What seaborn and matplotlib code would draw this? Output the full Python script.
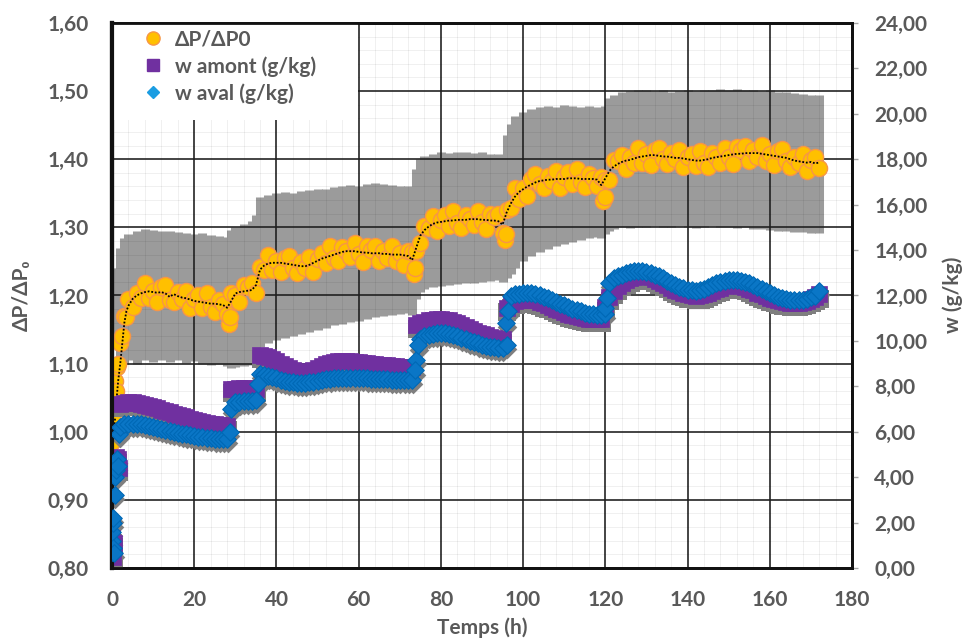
import matplotlib
matplotlib.use("Agg")
import matplotlib.pyplot as plt
import matplotlib.transforms as mtransforms
from matplotlib.lines import Line2D
from matplotlib.patches import Rectangle
from matplotlib.ticker import FuncFormatter, MultipleLocator
import seaborn as sns

# ---------------- data ----------------
# dP/dP0 : early (dense) samples then one sample per hour from 4 h to 172 h
t_dp = [0, 0.1, 0.2, 0.3, 0.4, 0.5, 0.75, 1, 1.25, 1.5, 2, 2.5, 3, 3.5] + list(range(4, 173))

dp_points = [
    0.985, 1.035, 1.005, 1.055, 1.015, 1.045, 1.075, 1.060, 1.095, 1.100, 1.130, 1.140, 1.170, 1.168,
    1.195, 1.183, 1.204, 1.197, 1.218, 1.196, 1.207, 1.190, 1.213, 1.215,
    1.194, 1.191, 1.205, 1.195, 1.207, 1.181, 1.195, 1.200, 1.182, 1.203,
    1.183, 1.176, 1.194, 1.187, 1.173, 1.204, 1.200, 1.191, 1.216, 1.212,
    1.218, 1.203, 1.242, 1.238, 1.260, 1.238, 1.250, 1.234, 1.255, 1.258,
    1.241, 1.233, 1.249, 1.241, 1.256, 1.235, 1.254, 1.263, 1.248, 1.272,
    1.255, 1.250, 1.271, 1.266, 1.256, 1.277, 1.261, 1.249, 1.273, 1.267,
    1.272, 1.250, 1.265, 1.255, 1.273, 1.250, 1.262, 1.245, 1.266, 1.264,
    1.266, 1.277, 1.302, 1.299, 1.316, 1.294, 1.311, 1.318, 1.302, 1.324,
    1.306, 1.299, 1.318, 1.313, 1.303, 1.324, 1.308, 1.297, 1.320, 1.315,
    1.319, 1.292, 1.326, 1.329, 1.358, 1.342, 1.358, 1.346, 1.371, 1.378,
    1.364, 1.358, 1.376, 1.368, 1.382, 1.358, 1.374, 1.381, 1.364, 1.386,
    1.366, 1.359, 1.378, 1.372, 1.361, 1.374, 1.369, 1.369, 1.399, 1.398,
    1.406, 1.386, 1.403, 1.395, 1.416, 1.394, 1.407, 1.392, 1.414, 1.417,
    1.400, 1.393, 1.409, 1.400, 1.413, 1.388, 1.403, 1.408, 1.390, 1.412,
    1.394, 1.388, 1.409, 1.404, 1.395, 1.417, 1.403, 1.393, 1.418, 1.413,
    1.419, 1.397, 1.413, 1.403, 1.421, 1.397, 1.408, 1.391, 1.412, 1.415,
    1.398, 1.389, 1.404, 1.395, 1.407, 1.382, 1.399, 1.403, 1.387,
]

# dotted black trend line
dp_trend = [
    0.985, 0.988, 0.992, 0.996, 1.000, 1.005, 1.020, 1.040, 1.058, 1.075, 1.100, 1.130, 1.160, 1.177,
    1.185, 1.195, 1.200, 1.203, 1.205, 1.206, 1.205, 1.204, 1.205, 1.203,
    1.198, 1.202, 1.199, 1.197, 1.196, 1.194, 1.192, 1.191, 1.190, 1.189,
    1.188, 1.188, 1.187, 1.186, 1.182, 1.192, 1.203, 1.205, 1.206, 1.207,
    1.208, 1.215, 1.238, 1.244, 1.247, 1.248, 1.248, 1.248, 1.247, 1.246,
    1.245, 1.244, 1.243, 1.243, 1.245, 1.248, 1.251, 1.254, 1.256, 1.258,
    1.260, 1.262, 1.264, 1.265, 1.265, 1.265, 1.264, 1.263, 1.263, 1.262,
    1.262, 1.262, 1.261, 1.261, 1.260, 1.260, 1.260, 1.259, 1.258, 1.252,
    1.270, 1.288, 1.296, 1.301, 1.305, 1.307, 1.308, 1.309, 1.310, 1.310,
    1.311, 1.311, 1.311, 1.312, 1.312, 1.312, 1.311, 1.311, 1.310, 1.310,
    1.309, 1.304, 1.322, 1.335, 1.345, 1.352, 1.356, 1.360, 1.363, 1.366,
    1.368, 1.369, 1.370, 1.370, 1.371, 1.371, 1.371, 1.372, 1.372, 1.372,
    1.371, 1.371, 1.371, 1.371, 1.370, 1.362, 1.372, 1.383, 1.389, 1.393,
    1.396, 1.398, 1.399, 1.401, 1.403, 1.404, 1.405, 1.406, 1.406, 1.405,
    1.404, 1.404, 1.403, 1.402, 1.402, 1.401, 1.400, 1.399, 1.398, 1.398,
    1.399, 1.400, 1.402, 1.403, 1.404, 1.405, 1.406, 1.407, 1.408, 1.408,
    1.409, 1.409, 1.409, 1.409, 1.408, 1.407, 1.406, 1.405, 1.404, 1.403,
    1.402, 1.400, 1.398, 1.397, 1.396, 1.395, 1.396, 1.394, 1.395,
]

# low dP/dP0 points at the humidity steps
t_dp_steps = [28.5, 28.8, 73.5, 73.8, 95.5, 95.8, 119.5, 119.8]
dp_steps = [1.158, 1.168, 1.232, 1.240, 1.282, 1.290, 1.338, 1.345]

# grey error bars of dP/dP0 (low / high ends)
t_band = [1, 2, 3, 4, 6, 8, 10, 12, 14, 16, 18, 20, 22, 24, 26, 28, 29, 30, 32, 34, 35,
          36, 38, 40, 42, 44, 46, 48, 50, 52, 54, 56, 58, 60, 62, 64, 66, 68, 70, 72, 73,
          74, 75, 76, 78, 80, 82, 84, 86, 88, 90, 92, 94, 95,
          96, 97, 98, 100, 102, 104, 106, 108, 110, 112, 114, 116, 118, 119,
          120, 121, 122, 124, 126, 128, 130, 132, 134, 136, 138, 140, 142, 144, 146, 148,
          150, 152, 154, 156, 158, 160, 162, 164, 166, 168, 170, 172]
band_low = [1.130, 1.110, 1.100, 1.105, 1.100, 1.105, 1.102, 1.106, 1.103, 1.105, 1.101, 1.104,
            1.100, 1.098, 1.100, 1.096, 1.094, 1.095, 1.097, 1.098, 1.105,
            1.125, 1.130, 1.135, 1.138, 1.141, 1.144, 1.147, 1.150, 1.153, 1.156, 1.158, 1.161,
            1.163, 1.166, 1.168, 1.170, 1.172, 1.173, 1.174, 1.172,
            1.195, 1.205, 1.210, 1.212, 1.214, 1.215, 1.217, 1.218, 1.219, 1.220, 1.221, 1.222, 1.220,
            1.225, 1.232, 1.240, 1.250, 1.258, 1.264, 1.268, 1.272, 1.276, 1.279, 1.282, 1.284,
            1.286, 1.285,
            1.290, 1.295, 1.298, 1.300, 1.299, 1.301, 1.300, 1.302, 1.301, 1.300, 1.302, 1.301,
            1.299, 1.300, 1.302, 1.301, 1.300, 1.299, 1.300, 1.298, 1.297, 1.296, 1.295, 1.294,
            1.293, 1.293, 1.292, 1.292]
band_high = [1.240, 1.270, 1.285, 1.290, 1.295, 1.297, 1.296, 1.294, 1.295, 1.293, 1.292, 1.290,
             1.291, 1.289, 1.288, 1.286, 1.296, 1.300, 1.305, 1.310, 1.318,
             1.345, 1.348, 1.350, 1.352, 1.351, 1.354, 1.355, 1.357, 1.356, 1.359, 1.360, 1.362,
             1.361, 1.364, 1.365, 1.363, 1.362, 1.361, 1.360, 1.358,
             1.385, 1.400, 1.405, 1.408, 1.410, 1.409, 1.411, 1.410, 1.409, 1.410, 1.408, 1.407, 1.405,
             1.435, 1.452, 1.463, 1.470, 1.474, 1.477, 1.478, 1.477, 1.479, 1.478, 1.477, 1.478,
             1.476, 1.474,
             1.478, 1.490, 1.495, 1.498, 1.500, 1.501, 1.502, 1.500, 1.501, 1.499, 1.500, 1.501,
             1.500, 1.502, 1.501, 1.503, 1.502, 1.503, 1.502, 1.501, 1.500, 1.501, 1.499, 1.498,
             1.497, 1.496, 1.495, 1.495]

# w amont (g/kg): start-up samples then hourly from 2 h to 172 h
t_amont = [0, 0.1, 0.2, 0.3, 0.4, 0.6, 0.8, 1.0, 1.2, 1.4, 1.6] + list(range(2, 173))
w_amont = [
    0.6, 1.3, 0.9, 0.5, 1.1, 4.3, 4.6, 4.9, 4.5, 4.8, 4.4,
    7.22, 7.28, 7.30, 7.29, 7.27, 7.23, 7.18, 7.13, 7.08, 7.03,
    6.97, 6.92, 6.86, 6.80, 6.75, 6.69, 6.64, 6.58, 6.53, 6.48,
    6.43, 6.39, 6.36, 6.33, 6.31, 6.29, 6.27, 7.88, 7.90, 7.92,
    7.92, 7.91, 7.90, 7.88, 9.38, 9.35, 9.30, 9.20, 9.10, 9.00,
    8.90, 8.81, 8.72, 8.67, 8.63, 8.63, 8.65, 8.72, 8.80, 8.89,
    8.98, 9.04, 9.08, 9.10, 9.11, 9.11, 9.10, 9.08, 9.06, 9.04,
    9.02, 9.00, 8.98, 8.96, 8.94, 8.92, 8.90, 8.89, 8.87, 8.86,
    8.85, 8.85, 10.70, 10.78, 10.85, 10.90, 10.93, 10.95, 10.96, 10.94,
    10.90, 10.85, 10.78, 10.70, 10.62, 10.53, 10.45, 10.37, 10.30, 10.24,
    10.18, 10.14, 10.10, 10.08, 11.45, 11.62, 11.75, 11.80, 11.82, 11.83,
    11.82, 11.78, 11.72, 11.65, 11.58, 11.50, 11.42, 11.34, 11.27, 11.20,
    11.14, 11.09, 11.04, 11.00, 10.97, 10.96, 10.96, 10.96, 11.50, 11.95,
    12.20, 12.40, 12.55, 12.66, 12.75, 12.81, 12.85, 12.86, 12.85, 12.80,
    12.72, 12.64, 12.55, 12.45, 12.35, 12.26, 12.18, 12.11, 12.05, 12.01,
    11.98, 12.00, 12.05, 12.12, 12.20, 12.28, 12.35, 12.41, 12.45, 12.47,
    12.46, 12.43, 12.38, 12.30, 12.22, 12.13, 12.05, 11.97, 11.90, 11.84,
    11.78, 11.74, 11.70, 11.68, 11.68, 11.69, 11.72, 11.77, 11.85, 11.95,
    12.05,
]

# w aval (g/kg): start-up samples, hourly values, and isolated points at the steps
t_aval = ([0, 0.05, 0.1, 0.15, 0.2, 0.3, 0.45, 0.6, 0.8, 1.0, 1.2, 1.4, 1.7]
          + list(range(2, 173))
          + [28.6, 35.5, 73.7, 74.4, 95.8, 96.3, 119.8, 120.3])
w_aval = [
    0.7, 1.2, 1.6, 0.9, 2.0, 2.2, 0.65, 3.2, 4.0, 4.3, 4.8, 4.5, 5.9,
    6.22, 6.33, 6.36, 6.36, 6.35, 6.33, 6.30, 6.26, 6.22, 6.17,
    6.13, 6.08, 6.04, 6.00, 5.96, 5.92, 5.88, 5.85, 5.82, 5.79,
    5.76, 5.74, 5.72, 5.70, 5.69, 5.68, 5.67, 7.00, 7.30, 7.33,
    7.35, 7.36, 7.36, 7.40, 8.55, 8.50, 8.45, 8.40, 8.35, 8.30,
    8.25, 8.21, 8.18, 8.16, 8.15, 8.16, 8.18, 8.21, 8.25, 8.29,
    8.32, 8.34, 8.36, 8.37, 8.37, 8.37, 8.37, 8.37, 8.36, 8.36,
    8.35, 8.34, 8.33, 8.33, 8.32, 8.31, 8.30, 8.30, 8.29, 8.29,
    8.28, 8.28, 9.16, 10.10, 10.20, 10.26, 10.30, 10.33, 10.35, 10.34,
    10.32, 10.28, 10.22, 10.15, 10.08, 10.01, 9.95, 9.89, 9.83, 9.79,
    9.75, 9.72, 9.70, 9.69, 9.82, 11.98, 12.05, 12.08, 12.10, 12.11,
    12.10, 12.05, 12.00, 11.94, 11.88, 11.80, 11.72, 11.64, 11.56, 11.49,
    11.42, 11.36, 11.30, 11.25, 11.20, 11.17, 11.14, 11.13, 11.20, 12.55,
    12.75, 12.85, 12.92, 12.98, 13.02, 13.06, 13.08, 13.08, 13.05, 13.00,
    12.92, 12.84, 12.75, 12.65, 12.55, 12.46, 12.38, 12.31, 12.25, 12.22,
    12.20, 12.22, 12.28, 12.36, 12.45, 12.53, 12.60, 12.65, 12.68, 12.69,
    12.68, 12.65, 12.60, 12.53, 12.45, 12.37, 12.28, 12.19, 12.10, 12.02,
    11.95, 11.90, 11.85, 11.82, 11.80, 11.80, 11.82, 11.86, 11.92, 11.98,
    12.20,
    6.00, 8.10, 8.70, 9.80, 10.79, 11.30, 11.45, 11.90,
]

# ---------------- style ----------------
sns.set_theme(style="white")
plt.rcParams['font.family'] = ['Lato', 'Open Sans', 'DejaVu Sans']
plt.rcParams['font.weight'] = 'bold'
plt.rcParams['axes.labelweight'] = 'bold'

TXT = '#595959'
ORANGE_FILL, ORANGE_EDGE = '#FFC000', '#F79646'
PURPLE = '#7030A0'
BLUE_FILL, BLUE_EDGE = '#0A76C6', '#0068B5'
SHADOW = '#7f7f7f'


def fr_comma(v, pos):
    return f'{v:.2f}'.replace('.', ',')


fig = plt.figure(figsize=(9.65, 6.4), dpi=100)
ax = fig.add_axes([0.1161, 0.1125, 0.7668, 0.8516])
ax2 = ax.twinx()

# --- dP/dP0 on left axis ---
# grey error bars sit under the grid; the grid is drawn semi-transparent on top
ax.vlines(t_band, band_low, band_high, colors='#9b9b9b', linewidth=6.5, zorder=1)
sns.scatterplot(x=t_dp, y=dp_points, ax=ax, marker='o', s=135, color=ORANGE_FILL,
                edgecolor=ORANGE_EDGE, linewidth=1, zorder=3, legend=False)
sns.scatterplot(x=t_dp_steps, y=dp_steps, ax=ax, marker='o', s=135, color=ORANGE_FILL,
                edgecolor=ORANGE_EDGE, linewidth=1, zorder=3, legend=False)
sns.lineplot(x=t_dp, y=dp_trend, ax=ax, color='black', linestyle=(0, (1, 1)),
             linewidth=1.3, zorder=4, estimator=None, sort=False, legend=False)

# --- w on right axis (grey drop shadow first) ---
shadow = ax2.transData + mtransforms.ScaledTranslation(0.5 / 72, -3 / 72, fig.dpi_scale_trans)
ax2.scatter(t_amont, w_amont, marker='s', s=175, color=SHADOW, linewidths=0,
            transform=shadow, zorder=1)
ax2.scatter(t_aval, w_aval, marker='D', s=100, color=SHADOW, linewidths=0,
            transform=shadow, zorder=1)
sns.scatterplot(x=t_amont, y=w_amont, ax=ax2, marker='s', s=145, color=PURPLE,
                edgecolor=PURPLE, linewidth=0.5, zorder=2, legend=False)
sns.scatterplot(x=t_aval, y=w_aval, ax=ax2, marker='D', s=80, color=BLUE_FILL,
                edgecolor=BLUE_EDGE, linewidth=0.8, zorder=3, legend=False)

# --- axes, ticks, grid ---
ax.set_xlim(0, 180)
ax.set_ylim(0.8, 1.6)
ax2.set_ylim(0, 24)
ax.set_xlabel('')
ax.set_ylabel('')
ax2.set_ylabel('')

ax.xaxis.set_major_locator(MultipleLocator(20))
ax.xaxis.set_minor_locator(MultipleLocator(4))
ax.yaxis.set_major_locator(MultipleLocator(0.1))
ax.yaxis.set_minor_locator(MultipleLocator(0.02))
ax.yaxis.set_major_formatter(FuncFormatter(fr_comma))
ax2.yaxis.set_major_locator(MultipleLocator(2))
ax2.yaxis.set_major_formatter(FuncFormatter(fr_comma))

ax.grid(which='major', color='#1e1e1e', linewidth=1.3, alpha=0.9)
ax.grid(which='minor', color='black', linewidth=0.7, alpha=0.06)
ax.set_axisbelow('line')

ax.tick_params(axis='x', which='both', length=0, labelsize=15, labelcolor=TXT, pad=16)
ax.tick_params(axis='y', which='both', length=0, labelsize=15, labelcolor=TXT, pad=17)
ax2.tick_params(axis='y', which='major', length=4, width=1, color='#a6a6a6',
                labelsize=15, labelcolor=TXT, pad=12)

for name, lw in [('left', 3), ('bottom', 2), ('top', 2), ('right', 2)]:
    ax.spines[name].set_color('#111111')
    ax.spines[name].set_linewidth(lw)
    ax2.spines[name].set_color('#111111')
    ax2.spines[name].set_linewidth(lw)

fig.text(22 / 965, 1 - 295 / 640, 'ΔP/ΔP₀', rotation=90, ha='center', va='center',
         fontsize=15, color=TXT, fontweight='bold')
fig.text(482 / 965, 1 - 628 / 640, 'Temps (h)', ha='center', va='center',
         fontsize=15, color=TXT, fontweight='bold')
fig.text(953 / 965, 1 - 295 / 640, 'w (g/kg)', rotation=90, ha='center', va='center',
         fontsize=15, color=TXT, fontweight='bold')

# --- legend on a white box in the upper-left corner ---
ax2.add_patch(Rectangle((0, 0.822), 0.332, 0.178, transform=ax2.transAxes,
                        facecolor='white', edgecolor='none', zorder=0.5))
handles = [
    Line2D([], [], ls='none', marker='o', ms=9.5, mfc=ORANGE_FILL, mec=ORANGE_EDGE, mew=1),
    Line2D([], [], ls='none', marker='s', ms=8.5, mfc=PURPLE, mec=PURPLE),
    Line2D([], [], ls='none', marker='D', ms=6, mfc='#1B9DE2', mec='#1B9DE2'),
]
labels = ['ΔP/ΔP0', 'w amont (g/kg)', 'w aval (g/kg)']
leg = ax2.legend(handles, labels, loc='upper left', bbox_to_anchor=(0.0414, 0.988),
                 borderaxespad=0, borderpad=0, frameon=False, fontsize=15,
                 handlelength=1.0, handletextpad=0.56, labelspacing=0.31, labelcolor=TXT)
leg.set_zorder(6)

fig.savefig('out.png', dpi=100)
